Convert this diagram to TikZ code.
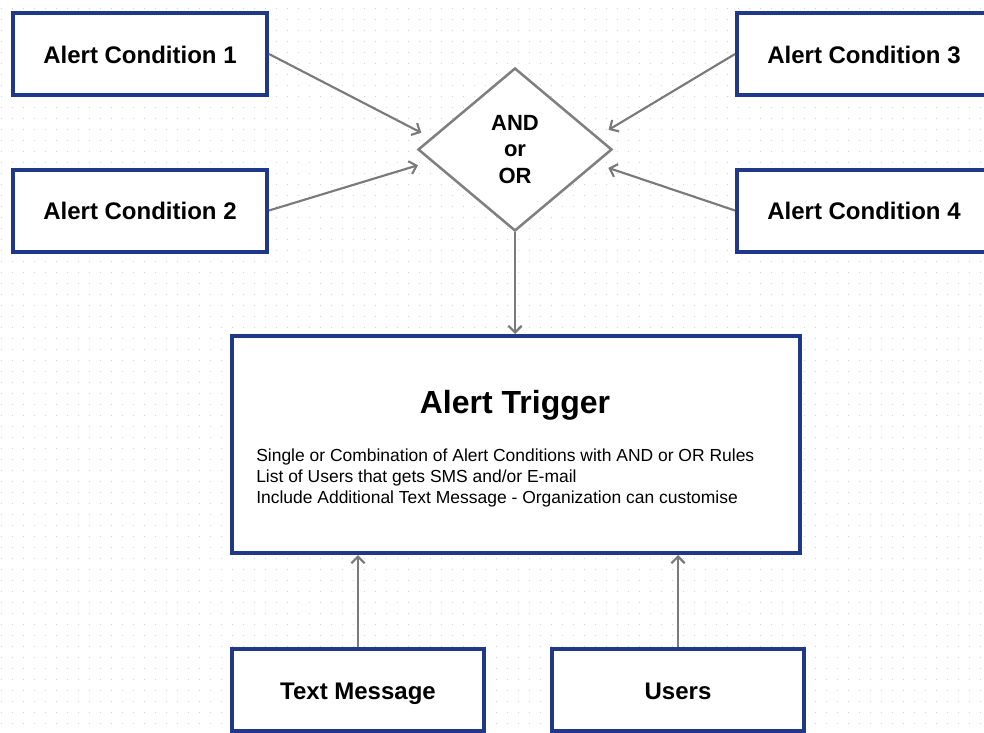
\documentclass[tikz,border=0pt]{standalone}
\usepackage{fontspec}
\setmainfont{Liberation Sans}
\usetikzlibrary{positioning}
\usetikzlibrary{shapes.geometric}
\usetikzlibrary{arrows.meta}
\def\CondColor{rgb,255:red,31;green,56;blue,138}
\def\EdgeColor{rgb,255:red,122;green,122;blue,122}
\def\GateColor{rgb,255:red,128;green,128;blue,128}
\def\DotColor{rgb,255:red,210;green,210;blue,210}

\begin{document}
\begin{tikzpicture}[x=0.75pt,y=-0.75pt]
\tikzstyle{dotrow} = [draw=\DotColor, line width=0.75pt, dash pattern=on 0.75pt off 7.5pt]
\tikzstyle{cond} = [rectangle, draw=\CondColor, line width=3pt, fill=white, minimum width=190.5pt, minimum height=61.5pt, text height=14pt, text depth=0pt, font=\fontsize{18}{21}\selectfont\bfseries]
\tikzstyle{gate} = [diamond, draw=\GateColor, line width=1.9pt, fill=white, minimum width=145.5pt, minimum height=122.25pt, inner sep=0pt, align=center, font=\fontsize{16.5}{20}\selectfont\bfseries]
\tikzstyle{trigger} = [rectangle, draw=\CondColor, line width=3pt, fill=white, minimum width=426pt, minimum height=162.75pt]
\tikzstyle{title} = [inner sep=0pt, anchor=base, font=\fontsize{24}{28}\selectfont\bfseries]
\tikzstyle{rules} = [inner sep=0pt, anchor=west, align=left, font=\fontsize{13.1}{16.1}\selectfont]
\tikzstyle{connector} = [draw=\EdgeColor, line width=1.6pt, -{Straight Barb[length=5pt,width=10pt]}]

\useasboundingbox (0,0) rectangle (984,732);
\clip (0,0) rectangle (984,732);
\fill[white] (0,0) rectangle (984,732);

% dotted background
\foreach \y in {8,19,...,731}
  \path [dotrow] (1,\y) -- (984,\y);

\node [cond] at (140,54) (c1) {Alert Condition 1};
\node [cond] at (140,210.5) (c2) {Alert Condition 2};
\node [cond] at (864,54) (c3) {Alert Condition 3};
\node [cond] at (864,210.5) (c4) {Alert Condition 4};
\node [gate] at (515,149.5) (gate) {AND\\or\\OR};

\node [trigger] at (516,444.5) (trig) {};
\node [title] at (515,413) (ttl) {Alert Trigger};
\node [rules] at (256,478) (desc) {Single or Combination of Alert Conditions with AND or OR Rules\\List of Users that gets SMS and/or E-mail\\Include Additional Text Message - Organization can customise};

\node [cond, minimum width=189pt] at (358,690) (msg) {Text Message};
\node [cond, minimum width=189pt] at (678,690) (users) {Users};


\path [connector, shorten >=8pt] (c1.east) -- (gate.172);
\path [connector, shorten >=10pt] (c2.east) -- (gate.188);
\path [connector, shorten >=9.5pt] (c3.west) -- (gate.9.5);
\path [connector, shorten >=9.5pt] (c4.west) -- (gate.-10);
\path [connector] (gate.south) -- (gate.south |- trig.north);
\path [connector] (msg.north) -- (msg.north |- trig.south);
\path [connector] (users.north) -- (users.north |- trig.south);

\end{tikzpicture}
\end{document}
